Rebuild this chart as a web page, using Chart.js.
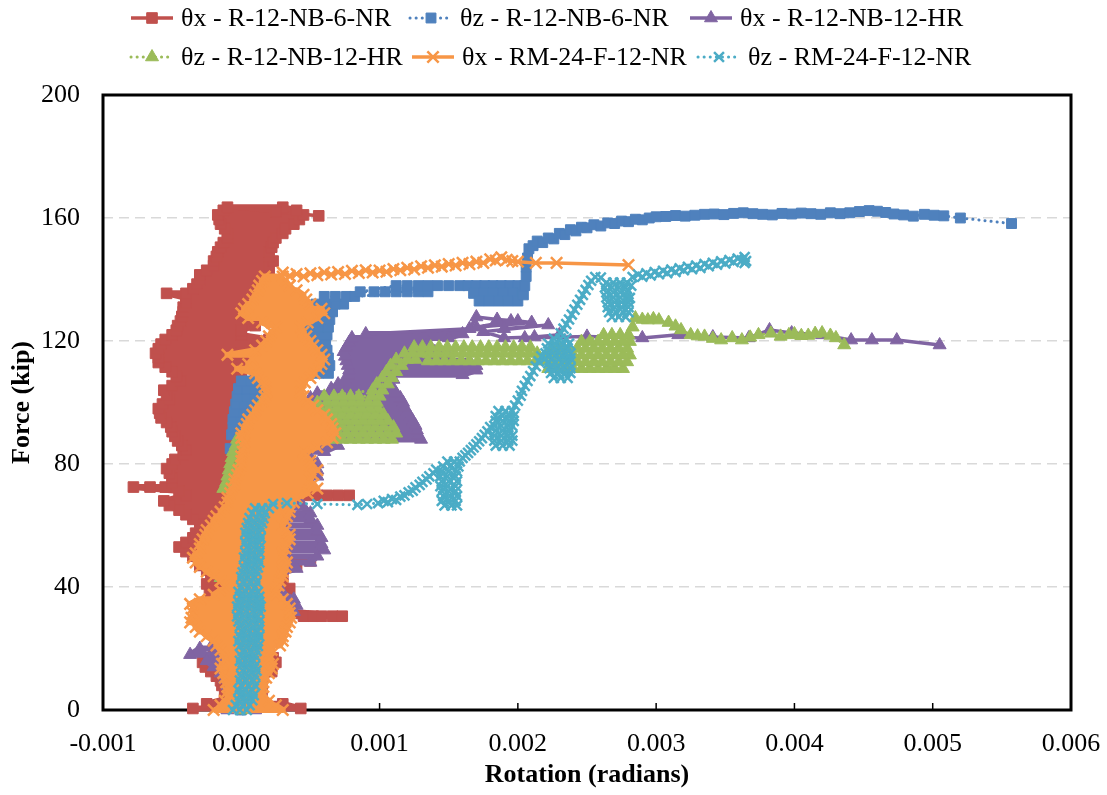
<!DOCTYPE html>
<html>
<head>
<meta charset="utf-8">
<title>Force vs Rotation</title>
<script src="https://cdn.jsdelivr.net/npm/chart.js@4.4.1/dist/chart.umd.min.js"></script>
<style>
  html, body { margin: 0; padding: 0; background: #fff; }
  #wrap { width: 1107px; height: 795px; }
</style>
</head>
<body>
<div id="wrap"><canvas id="forceRotation" width="1107" height="795"></canvas></div>
<script>
// Two kinds of arrays below:
//   ...Rows  : [force (kip), rotation (rad), rotation, ...] - readings at one load level,
//              swept back and forth to follow the load cycles
//   ...Path  : [rotation (rad), force (kip)] pairs in recorded order

const seriesLabels = [
    'θx - R-12-NB-6-NR', 'θz - R-12-NB-6-NR', 'θx - R-12-NB-12-HR',
    'θz - R-12-NB-12-HR', 'θx - RM-24-F-12-NR', 'θz - RM-24-F-12-NR'
];

// ---- θx R-12-NB-6-NR
const thxR6Rows = [
    [0.5,-0.00035,0.00043],[2,-0.00025,0.0003],[3.5,-0.00012,0.00012],[5,-0.0001,0.00015],[6.5,-0.00012,0.00013],
    [8,-0.00014,0.00015],[9.5,-0.00015,0.00012],[11,-0.00018,0.00016],[12.5,-0.00022,0.00022],[14,-0.00026,0.00022],
    [15.5,-0.00028,0.00025],[17,-0.00024,0.00023],[18.5,-0.0002,0.0002],[20,-0.00017,0.00019],[21.5,-0.00015,0.00018],
    [23,-0.00018,0.0002],[24.5,-0.0002,0.00025],[26,-0.00024,0.00027],[27.5,-0.00026,0.0003],[29,-0.0003,0.0003],
    [30.5,-0.0003,0.00045,0.00052,0.00058,0.00066,0.00073],[32,-0.0002,0.00035],[33.5,-0.00022,0.00035],
    [35,-0.00025,0.0003],[36.5,-0.00022,0.0003],[38,-0.0002,0.00033],[39.5,-0.00023,0.00035],[41,-0.00025,0.0003],
    [42.5,-0.00022,0.00028],[44,-0.0002,0.0003],[45.5,-0.00025,0.0003],[47,-0.0003,0.0004],[48.5,-0.0003,0.0005],
    [50,-0.00035,0.0003],[51.5,-0.0004,0.00025],[53,-0.00045,0.0002],[54.5,-0.0004,0.0002],[56,-0.00035,0.00015],
    [57.5,-0.00033,0.00015],[59,-0.0003,0.0001],[60.5,-0.0003,0.0001],[62,-0.00035,0.00008],[63.5,-0.0004,0.00005],
    [65,-0.00045,0.0001],[66.5,-0.00052,0.00015],[68,-0.00056,0.0003],[69.8,-0.0004,0.00048,0.00055,0.00062,0.0007,0.00078],
    [71.2,-0.00045,0.0001],[72.5,-0.00078,-0.00066,-0.00055,0.0001],[74,-0.0005,0.0001],[75.5,-0.0005,0.00005],
    [77,-0.00052,0.00005],[78.5,-0.00054,0],[80,-0.0005,0],[81.5,-0.00048,0.00005],[83,-0.00042,0.00005],
    [84.5,-0.0004,0.0001],[86,-0.00043,0.0001],[87.5,-0.00046,0],[89,-0.00048,0],[90.5,-0.0005,0.00005],
    [92,-0.00051,0.00005],[93.5,-0.00054,0],[95,-0.00058,0],[96.5,-0.00059,0.00005],[98,-0.0006,0.00005],
    [99.5,-0.00057,0],[101,-0.00052,0],[102.5,-0.00054,0.00005],[104,-0.00056,0.00005],[105.5,-0.0005,0.0001],
    [107,-0.00044,0.0001],[108.5,-0.00047,0],[110,-0.0005,0],[111.5,-0.00055,0.00005],[113,-0.0006,0.00005],
    [114.5,-0.0006,0],[116,-0.00062,0],[117.5,-0.0006,0.0001],[119,-0.00058,0.00012],[120.5,-0.00055,0.0002],
    [122,-0.0005,0],[123.5,-0.00047,0],[125,-0.00046,0.0001],[126.5,-0.00044,0.0001],[128,-0.00043,0.00015],
    [129.5,-0.00042,0.00015],[131,-0.00042,0.00015],[132.5,-0.0004,0.00015],[134,-0.0004,0.0002],
    [135.5,-0.00054,-0.0004,0.0002],[137,-0.00035,0.00012],[138.5,-0.00032,0.00015],[140,-0.0003,0.0002],
    [141.5,-0.0003,0.0002],[143,-0.00025,0.0002],[144.5,-0.0002,0.0002],[146,-0.0002,0.00023],[147.5,-0.00018,0.0002],
    [149,-0.00017,0.0002],[150.5,-0.00015,0.00022],[152,-0.00013,0.00023],[153.5,-0.0001,0.00025],[155,-0.0001,0.0003],
    [156.5,-0.00012,0.00032],[158,-0.00015,0.00038],[159.5,-0.00016,0.00042],[161,-0.00017,0.00045],
    [162.5,-0.00013,0.0004],[163.5,-0.0001,0.0003]
];
const thxR6Path = [[0.00025,162],[0.00056,160.7]];

// ---- θz R-12-NB-6-NR
const thzR6Low = [
    [0,0],[0.00008,2],[-0.00002,5],[0.0001,9],[0,13],[0.00012,17],[-0.00002,21],[0.0001,25],[0,29],[0.00012,33],
    [-0.00003,37],[0.0001,41],[0,45],[0.00012,49],[-0.00004,53],[0.0001,57],[-0.00002,61],[0.00012,65],[-0.00005,69],
    [0.0001,73],[-0.00006,77],[0.00012,81],[-0.00008,85],[0.00014,88]
];
const thzR6Rows = [
    [89.5,-0.00007,-0.00001,0.00005,0.00011,0.00016],[92,-0.00006,0,0.00006,0.00012,0.00017],
    [94.5,-0.00006,0,0.00006,0.00012,0.00017],[97,-0.00005,0.00001,0.00007,0.00013,0.00018],
    [99.5,-0.00004,0.00002,0.00008,0.00014,0.00018],[102,-0.00003,0.00003,0.00009,0.00015],
    [104.5,-0.00002,0.00004,0.0001,0.00016],[107,0,0.00006,0.00012,0.00017],
    [109.5,0.00049,0.00056,0.00063],[112,0.0005,0.00057,0.00064],[114.5,0.00049,0.00056,0.00063],
    [117,0.00048,0.00055,0.00062],[119.5,0.00047,0.00054,0.00061],[122,0.00048,0.00055,0.00062],
    [124.5,0.00049,0.00056,0.00063],[127,0.0005,0.00057,0.00064],[129.5,0.00052,0.00059,0.00066],
    [132,0.00054,0.00061,0.00068,0.00074],[134.5,0.0006,0.00068,0.00076,0.00082],
    [136,0.00086,0.00096,0.00104,0.00112,0.0012,0.00128,0.00135],
    [138,0.00112,0.0012,0.00128,0.00135,0.00142,0.0015,0.00158,0.00164,0.0017,0.00176,0.00182,0.00188,0.00194,0.002],
    [135.5,0.00168,0.00175,0.00182,0.00189,0.00196,0.00202],[133,0.00172,0.00179,0.00186,0.00193,0.002]
];
const thzR6Path = [
    [0.00204,135],[0.00205,138],[0.00206,141],[0.00206,144],[0.00207,147],[0.00208,150],
    [0.00211,151],[0.00214,152.5],[0.00218,152],[0.00222,153.5],[0.00226,153.2],[0.0023,155],[0.00234,154.6],
    [0.00238,156.2],[0.00242,155.8],[0.00246,157],[0.0025,156.8],[0.00255,157.8],[0.0026,157.4],[0.00265,158.4],
    [0.0027,158.2],[0.00275,159],[0.0028,158.8],[0.00285,159.6],[0.0029,159.4],[0.00295,160],[0.003,160.4],
    [0.00307,160.5],[0.00314,160.8],[0.00321,160.6],[0.00328,160.9],[0.00335,161.2],[0.00342,161.3],[0.00349,161.1],
    [0.00356,161.5],[0.00363,161.7],[0.0037,161.4],[0.00377,161.2],[0.00384,161],[0.00391,161.5],[0.00398,161.3],
    [0.00405,161.6],[0.00412,161.4],[0.00419,161.2],[0.00426,161.7],[0.00433,161.4],[0.0044,161.7],[0.00447,162.1],
    [0.00454,162.4],[0.0046,162.2],[0.00466,161.8],[0.00472,161.3],[0.00479,161],[0.00486,160.6],[0.00494,161.2],
    [0.00501,160.9],[0.00508,160.7],[0.0052,160],[0.00557,158.2]
];

// ---- θx R-12-NB-12-HR
const thxR12Rows = [
    [0,-0.0001,0.0001],[2,-0.0001,0.00015],[4,-0.00008,0.00016],[6,-0.00005,0.00012],[8,-0.0001,0.0001],
    [10,-0.00012,0.0001],[12,-0.00015,0.0001],[14,-0.0002,0.00012],[16,-0.00025,0.0001],[18,-0.00037,0.0001],
    [20,-0.0003,0.00012],[22,-0.0002,0.00015],[24,-0.00018,0.0002],[26,-0.0002,0.00022],[28,-0.00012,0.00025],
    [30,-0.0001,0.0003],[32,-0.00008,0.00038],[34,-0.0001,0.0004],[36,-0.0001,0.00038],[38,-0.00008,0.0003],
    [40,-0.0001,0.00022],[42,-0.0001,0.0002],[44,-0.0001,0.00025],[46,-0.00005,0.0004],[48,0,0.0005],
    [50,0,0.00055],[52,0.0001,0.0006],[54,0.0001,0.00058],[56,0.0001,0.00058],[58,0.0001,0.00055],
    [60,0.0001,0.00055],[62,0.0001,0.0005],[64,0.0001,0.0005],[66,0.0001,0.00045],[68,0.0001,0.00042],
    [70,0.0001,0.0004],[72,0.0001,0.00045],[74,0.00012,0.0005],[76,0.00015,0.00055],[78,0.00018,0.00055],
    [80,0.0002,0.00055],[82,0.0002,0.0005],[84,0.00025,0.0006],[86,0.0003,0.0007],
    [88,0.0004,0.0013],[89.5,0.0005,0.00128],[91,0.00055,0.00127],[92.5,0.0005,0.00126],[94,0.00048,0.00124],
    [95.5,0.00045,0.00122],[97,0.00045,0.0012],[98.5,0.00046,0.00118],[100,0.00048,0.00117],[101.5,0.0005,0.00115],
    [103,0.00055,0.00112],[104.5,0.00065,0.0011],[106,0.0007,0.00105],[107.5,0.00075,0.0011],[109,0.00078,0.0016],
    [110.5,0.00078,0.0017],[112,0.00077,0.0017],[113.5,0.00076,0.00165],[115,0.00075,0.0015],[116.5,0.00074,0.0014],
    [118,0.00076,0.0013],[119.5,0.00078,0.00135],[121,0.0008,0.0015],[122.3,0.0009,0.0016]
];
const thxR12Path = [
    [0.00165,124],[0.0017,127.8],[0.00185,127],[0.002,126.5],[0.0021,126],[0.0017,124.5],[0.00195,126.5],
    [0.0019,124],[0.00222,125.2],[0.00175,123],[0.0019,121],[0.00212,121.3],[0.0023,122],[0.00205,121],
    [0.0025,121.5],[0.0029,121],[0.00316,122],[0.00341,121.3],[0.00367,121],[0.00382,123.6],[0.00398,122.6],
    [0.0042,122],[0.00441,120.3],[0.00456,120.3],[0.00474,120.3],[0.00505,118.7]
];

// ---- θz R-12-NB-12-HR
const thzR12Low = [
    [0,0],[0.00008,3],[-0.00003,7],[0.0001,11],[-0.00002,15],[0.00008,19],[-0.00005,23],[0.0001,27],[-0.00003,31],
    [0.0001,35],[-0.00012,39],[0.00008,41],[-0.00015,43],[0.0001,47],[-0.00005,51],[0.0001,55],[-0.00004,59],
    [0.0001,63],[-0.00008,67],[0.0001,70]
];
const thzR12Rows = [
    [72,-0.00013,-0.00007,0.0001],[74,-0.00011,-0.00005,0.00012],[76,-0.0001,-0.00004,0.00015],
    [78,-0.00009,-0.00003,0.0002],[80,-0.00008,-0.00002,0.00025],[82,-0.00007,0,0.0003],[84,-0.00006,0.00001,0.00035],
    [86,-0.00004,0.00002,0.0004],
    [88,-0.00003,0.00005,0.0004,0.00048,0.00055,0.00061,0.00067,0.00073,0.00079,0.00085,0.00091,0.00097,0.00103,0.00109],
    [90,0.00004,0.00045,0.00052,0.00058,0.00064,0.0007,0.00076,0.00082,0.00088,0.00094,0.001,0.00106,0.00112],
    [92,0.00006,0.00042,0.00049,0.00055,0.00061,0.00067,0.00073,0.00079,0.00085,0.00091,0.00097,0.00103,0.0011],
    [94,0.00008,0.00045,0.00052,0.00058,0.00064,0.0007,0.00076,0.00082,0.00088,0.00094,0.001,0.00106],
    [96,0.0001,0.00048,0.00055,0.00061,0.00067,0.00073,0.00079,0.00085,0.00091,0.00097,0.00103],
    [98,0.00012,0.0005,0.00057,0.00063,0.00069,0.00075,0.00081,0.00087,0.00093,0.00099],
    [100,0.00015,0.00055,0.00062,0.00068,0.00074,0.0008,0.00086,0.00092,0.00098],
    [102,0.0006,0.00067,0.00073,0.00079,0.00085,0.00094,0.001],
    [104,0.00095,0.00102],[106,0.00098,0.00106],[108,0.00102,0.00109],[110,0.00105,0.00112],[112,0.00108,0.00116],
    [114,0.00112,0.0012,0.00126],
    [116,0.00118,0.00124,0.0013,0.00136,0.00142,0.00148,0.00154,0.0016,0.00166,0.00172,0.00178,0.00184,0.0019,0.00196,0.00202,0.00208,0.00214],
    [118,0.00125,0.00131,0.00137,0.00143,0.00149,0.00155,0.00161,0.00167,0.00173,0.00179,0.00185,0.00191,0.00197,0.00203,0.00209],
    [113.5,0.00135,0.00141,0.00147,0.00153,0.00159,0.00165,0.00171,0.00177,0.00183,0.00189,0.00195,0.00201,0.00207,0.00213,0.00219,0.00225],
    [111,0.00222,0.00228,0.00234,0.0024,0.00246,0.00252,0.00258,0.00264,0.0027,0.00276],
    [113.2,0.00225,0.00231,0.00237,0.00243,0.00249,0.00255,0.00261,0.00267,0.00273,0.00279],
    [115.4,0.00222,0.00228,0.00234,0.0024,0.00246,0.00252,0.00258,0.00264,0.0027,0.00276,0.00281],
    [117.6,0.00225,0.00231,0.00237,0.00243,0.00249,0.00255,0.00261,0.00267,0.00273,0.00279],
    [119.8,0.00246,0.00252,0.00258,0.00264,0.0027,0.00276,0.00281],
    [122,0.00262,0.00268,0.00274,0.0028]
];
const thzR12Path = [
    [0.00283,124.5],[0.00285,127.5],[0.0029,127],[0.00294,126.8],[0.00298,127.2],[0.00302,126.8],[0.00309,126],
    [0.00314,124.8],[0.00318,123.6],[0.00325,122],[0.0033,121.6],[0.00335,121.5],[0.00341,120.8],[0.00347,120.3],
    [0.00355,121],[0.00362,120.3],[0.00368,121.2],[0.00374,122],[0.00383,122.5],[0.0039,121.5],[0.00396,122],
    [0.004,122.3],[0.00405,121.7],[0.0041,121.8],[0.00415,122.4],[0.0042,122.6],[0.00426,121.8],[0.0043,121],
    [0.00436,118.7]
];

// ---- θx RM-24-F-12-NR
const thxRM24Rows = [
    [0,-0.0002,0.0003],[1.5,-0.00015,0.00025],[3,-0.00012,0.0002],[4.5,-0.0001,0.00015],[6,-0.0001,0.00015],
    [7.5,-0.0001,0.00016],[9,-0.00011,0.00016],[10.5,-0.00012,0.00018],[12,-0.00013,0.0002],[13.5,-0.00015,0.00022],
    [15,-0.00014,0.00023],[16.5,-0.00012,0.0002],[18,-0.00013,0.0002],[19.5,-0.00015,0.00022],[21,-0.00018,0.00028],
    [22.5,-0.0002,0.0003],[24,-0.00025,0.0003],[25.5,-0.0003,0.00032],[27,-0.00033,0.00033],[28.5,-0.00037,0.00035],
    [30,-0.00036,0.00036],[31.5,-0.00035,0.00035],[33,-0.00035,0.00035],[34.5,-0.00037,0.00033],[36,-0.0003,0.0003],
    [37.5,-0.0002,0.00025],[39,-0.00015,0.00025],[40.5,-0.00012,0.00027],[42,-0.00015,0.00028],[43.5,-0.0002,0.0003],
    [45,-0.00025,0.0003],[46.5,-0.0003,0.00032],[48,-0.00033,0.00033],[49.5,-0.00035,0.0003],[51,-0.00033,0.0003],
    [52.5,-0.0003,0.00032],[54,-0.0003,0.00033],[55.5,-0.00028,0.00035],[57,-0.00026,0.00035],[58.5,-0.00025,0.00032],
    [60,-0.00022,0.0003],[61.5,-0.0002,0.00032],[63,-0.00018,0.00033],[64.5,-0.00015,0.00035],[66,-0.00012,0.00035],
    [67.5,-0.0001,0.00038],[69,-0.0001,0.0004],[70.5,-0.00008,0.00048],[72,-0.00007,0.00055],[73.5,-0.00005,0.00052],
    [75,-0.00005,0.0005],[76.5,-0.00003,0.00052],[78,-0.00002,0.00055],[79.5,0,0.0005],[81,0,0.0005],
    [82.5,0,0.00047],[84,0.00001,0.00045],[85.5,0.00002,0.00055],[87,0.00002,0.00062],[88.5,0,0.00066],
    [90,0,0.00068],[91.5,0.00002,0.00066],[93,0.00004,0.00065],[94.5,0.00005,0.00062],[96,0.00008,0.0006],
    [97.5,0.0001,0.00055],[99,0.00012,0.00052],[100.5,0.00015,0.00048],[102,0.00017,0.00045],[103.5,0.00018,0.00043],
    [105,0.00017,0.00043],[106.5,0.00015,0.00046],[108,0.00012,0.0005],[109.5,0.0001,0.00053],[111,-0.00003,0.00056],
    [112.5,0.00005,0.00058],[114,0.00008,0.0006],[115.5,-0.0001,0.00058],[117,0.0001,0.00055],[118.5,0.00015,0.00052],
    [120,0.00018,0.0005],[121.5,0.0002,0.00047],[123,0.00022,0.00045],[124.5,0.00025,0.00043],[126,0.00015,0.00048],
    [127.5,0.00005,0.00055],[129,0,0.0006],[130.5,0.00002,0.00058],[132,0.00005,0.0005],[133.5,0.00008,0.00047],
    [135,0.0001,0.00045],[136.5,0.00012,0.0004],[138,0.00013,0.00035],[139.5,0.00015,0.00032],[141,0.00017,0.0003]
];
const thxRM24Path = [
    [0.0003,142.3],[0.00035,141.2],[0.0004,141.8],[0.00045,141],[0.0005,142],[0.00055,141.4],[0.0006,142.3],
    [0.00065,141.6],[0.0007,142.4],[0.00075,141.8],[0.0008,142.8],[0.00085,142.1],[0.0009,143],[0.00095,142.3],
    [0.001,142.9],[0.00105,142.5],[0.0011,143.4],[0.00115,143],[0.0012,143.8],[0.00125,143.3],[0.0013,144.3],
    [0.00135,143.8],[0.0014,144.6],[0.00145,144.2],[0.0015,145],[0.00155,144.6],[0.0016,145.4],[0.00165,145],
    [0.0017,145.8],[0.00175,145.4],[0.0018,146.6],[0.00184,146.2],[0.00188,147.2],[0.00192,146.4],[0.00196,146],
    [0.002,145.8],[0.00213,145.4],[0.00228,145.4],[0.0028,144.7]
];

// ---- θz RM-24-F-12-NR
const thzRM24Column = [
    [0,-0.00006,-0.00001,0.00004],[1.6,-0.00004,0.00001,0.00006],[3.2,-0.00002,0.00003,0.00008],
    [4.8,-0.00001,0.00004,0.00009],[6.4,-0.00002,0.00003,0.00008],[8,0,0.00005,0.0001],[9.6,-0.00001,0.00004,0.00009],
    [11.2,0,0.00005,0.0001],[12.8,0.00001,0.00006,0.00011],[14.4,0,0.00005,0.0001],[16,-0.00001,0.00004,0.00009],
    [17.6,0,0.00005,0.0001],[19.2,0.00001,0.00006,0.00011],[20.8,-0.00001,0.00004,0.00009,0.00012],
    [22.4,-0.00002,0.00003,0.00008,0.00012],[24,-0.00001,0.00004,0.00009,0.00013],[25.6,0,0.00005,0.0001,0.00012],
    [27.2,-0.00001,0.00004,0.00009,0.00013],[28.8,-0.00002,0.00003,0.00008,0.00013],[30.4,-0.00003,0.00002,0.00007,0.00012],
    [32,-0.00002,0.00003,0.00008,0.00013],[33.6,-0.00003,0.00002,0.00007,0.00012,0.00014],
    [35.2,-0.00002,0.00003,0.00008,0.00013],[36.8,-0.00001,0.00004,0.00009,0.00013],[38.4,-0.00002,0.00003,0.00008,0.00012],
    [40,0,0.00005,0.0001],[41.6,0.00001,0.00006,0.00011],[43.2,0,0.00005,0.0001],[44.8,0.00001,0.00006,0.00011],
    [46.4,0.00002,0.00007,0.00012],[48,0.00003,0.00008,0.00013],[49.6,0.00002,0.00007,0.00012],
    [51.2,0.00003,0.00008,0.00013],[52.8,0.00004,0.00009,0.00013],[54.4,0.00003,0.00008,0.00013],
    [56,0.00004,0.00009,0.00014],[57.6,0.00003,0.00008,0.00013],[59.2,0.00004,0.00009,0.00014],
    [60.8,0.00005,0.0001,0.00015],[62.4,0.00006,0.00011,0.00016],[64,0.00008,0.00013,0.00017],[65.6,0.0001,0.00015,0.0002]
];
const thzRM24Rise1 = [
    [0.00023,67],[0.00033,67.3],[0.00055,67],[0.00084,66.7],[0.00091,67],[0.00099,67.3],[0.00103,68],[0.00106,67.6],
    [0.00109,68.6],[0.00112,68.3],[0.00115,69.4],[0.00118,69.8],[0.00121,70.8],[0.00124,71.3],[0.00126,72.4],
    [0.00129,73.2],[0.00131,74.2],[0.00134,75],[0.00136,76],[0.00139,77],[0.00141,78.2]
];
const thzRM24Knot1 = [
    [66.5,0.00147,0.00152,0.00156],[68,0.00145,0.0015,0.00155],[69.6,0.00146,0.00151,0.00156],
    [71.2,0.00145,0.0015,0.00155],[72.8,0.00144,0.00149,0.00155],[74.4,0.00145,0.0015,0.00156],
    [76,0.00144,0.00149,0.00155],[77.6,0.00145,0.0015,0.00156],[79.2,0.00146,0.00151,0.00157],[80.8,0.00149,0.00154,0.00158]
];
const thzRM24Rise2 = [
    [0.0016,82],[0.00162,82.8],[0.00164,83.6],[0.00166,84.5],[0.00168,85.4],[0.0017,86.4],[0.00172,87.4],
    [0.00174,88.4],[0.00176,89.5],[0.00178,90.6],[0.0018,92]
];
const thzRM24Knot2 = [
    [86,0.00184,0.00189,0.00194],[87.6,0.00183,0.00188,0.00193,0.00196],[89.2,0.00183,0.00188,0.00193,0.00196],
    [90.8,0.00184,0.00189,0.00194],[92.4,0.00183,0.00188,0.00193,0.00196],[94,0.00184,0.00189,0.00194,0.00197],
    [95.6,0.00184,0.00189,0.00194,0.00197],[97.2,0.00186,0.00191,0.00196]
];
const thzRM24Rise3 = [
    [0.00198,99],[0.002,100.6],[0.00202,102.2],[0.00203,103.8],[0.00205,105.4],[0.00207,107],[0.00209,108.6],
    [0.00211,110.2],[0.00213,111.8],[0.00215,113.4],[0.00217,115]
];
const thzRM24Knot3 = [
    [108,0.00226,0.00231,0.00236],[109.6,0.00224,0.00229,0.00234,0.00238],[111.2,0.00223,0.00228,0.00233,0.00238],
    [112.8,0.00222,0.00227,0.00232,0.00237],[114.4,0.0022,0.00225,0.0023,0.00235,0.00238],
    [116,0.0022,0.00225,0.0023,0.00235,0.00238],[117.6,0.00221,0.00226,0.00231,0.00236],
    [119.2,0.00222,0.00227,0.00232,0.00237],[120.8,0.00226,0.00231,0.00235]
];
const thzRM24Rise4 = [
    [0.00231,122.5],[0.00233,124],[0.00235,125.5],[0.00237,127],[0.00239,128.6],[0.00241,130.2],[0.00243,131.8],
    [0.00245,133.4],[0.00247,135],[0.00249,136.6],[0.00251,138.2],[0.00253,139.6],[0.00256,140.8],[0.0026,140.6]
];
const thzRM24Knot4 = [
    [139,0.00264,0.00269,0.00274,0.00279],[137.4,0.00263,0.00268,0.00273,0.00278],[135.8,0.00264,0.00269,0.00274,0.00279],
    [134.2,0.00264,0.00269,0.00274,0.00279],[132.6,0.00265,0.0027,0.00275,0.0028],[131,0.00265,0.0027,0.00275,0.0028],
    [129.4,0.00266,0.00271,0.00276,0.0028],[127.8,0.00268,0.00273,0.00278]
];
const thzRM24Tail = [
    [0.00281,134],[0.00282,138],[0.00283,140.8],[0.00287,141.6],[0.0029,140.9],[0.00293,142],[0.00296,141.3],
    [0.00299,142.4],[0.00302,141.7],[0.00305,142.8],[0.00308,142.1],[0.00311,143.2],[0.00314,142.5],[0.00317,143.6],
    [0.0032,143],[0.00323,144.1],[0.00326,143.4],[0.00329,144.5],[0.00332,143.8],[0.00335,145],[0.00338,144.3],
    [0.00341,145.4],[0.00344,144.8],[0.00347,145.9],[0.0035,145.2],[0.00353,146.3],[0.00356,145.7],[0.00359,146.8],
    [0.00362,146.2],[0.00364,147.3],[0.00365,146],[0.00364,145.4]
];

const seriesColors = ['#C0504D', '#4F81BD', '#8064A2', '#9BBB59', '#F79646', '#4BACC6'];

// axis ranges and tick steps
const rotationMin = -0.001, rotationMax = 0.006, rotationStep = 0.001;
const forceMin = 0, forceMax = 200, forceStep = 40;

// rows are walked left-to-right, then right-to-left, and so on
function sweep(rows) {
    const pts = [];
    rows.forEach((r, k) => {
        const xs = r.slice(1);
        if (k % 2) xs.reverse();
        xs.forEach(x => pts.push({ x, y: r[0], cycle: true }));
    });
    return pts;
}
function trace(path) {
    return path.map(p => ({ x: p[0], y: p[1] }));
}

const seriesPoints = [
    [...sweep(thxR6Rows), ...trace(thxR6Path)],
    [...trace(thzR6Low), ...sweep(thzR6Rows), ...trace(thzR6Path)],
    [...sweep(thxR12Rows), ...trace(thxR12Path)],
    [...trace(thzR12Low), ...sweep(thzR12Rows), ...trace(thzR12Path)],
    [...sweep(thxRM24Rows), ...trace(thxRM24Path)],
    [...sweep(thzRM24Column), ...trace(thzRM24Rise1), ...sweep(thzRM24Knot1), ...trace(thzRM24Rise2),
     ...sweep(thzRM24Knot2), ...trace(thzRM24Rise3), ...sweep(thzRM24Knot3), ...trace(thzRM24Rise4),
     ...sweep(thzRM24Knot4), ...trace(thzRM24Tail)]
];

const serif = '"Liberation Serif", "Times New Roman", serif';
Chart.defaults.font.family = serif;
Chart.defaults.color = '#000';

// marker / line style per series (solid line for θx, dotted for θz)
const markerStyles = [
    { pointStyle: 'rect', radius: 7.5, dotted: false },
    { pointStyle: 'rect', radius: 7, dotted: true },
    { pointStyle: 'triangle', radius: 7.5, dotted: false },
    { pointStyle: 'triangle', radius: 7.5, dotted: true },
    { pointStyle: 'crossRot', radius: 8, dotted: false },
    { pointStyle: 'crossRot', radius: 7, dotted: true }
];

const datasets = seriesPoints.map((pts, i) => {
    const m = markerStyles[i];
    const c = seriesColors[i];
    const isCross = m.pointStyle === 'crossRot';
    const lineW = m.dotted ? 3 : 3.5;
    return {
        label: seriesLabels[i],
        data: pts,
        showLine: true,
        tension: 0,
        borderColor: c,
        backgroundColor: c,
        borderWidth: lineW,
        borderDash: m.dotted ? [0.1, 6] : [],
        borderCapStyle: m.dotted ? 'round' : 'butt',
        borderJoinStyle: 'round',
        // the back-and-forth load cycles pack tightly, so draw those strokes heavier
        segment: {
            borderWidth: ctx => (!m.dotted && pts[ctx.p0DataIndex].cycle && pts[ctx.p1DataIndex].cycle) ? 6 : lineW
        },
        pointStyle: m.pointStyle,
        pointRadius: m.radius,
        pointBackgroundColor: c,
        pointBorderColor: c,
        pointBorderWidth: isCross ? 2.5 : 1,
        order: 6 - i,
        clip: false
    };
});

// legend slots: [left of line sample, row centre]
const legendSlots = [[131, 18], [410, 18], [690, 18], [131, 57], [412, 57], [698, 57]];

const excelLegend = {
    id: 'excelLegend',
    afterDraw(chart) {
        const ctx = chart.ctx;
        chart.data.datasets.forEach((ds, i) => {
            const [x, y] = legendSlots[i];
            ctx.save();
            ctx.strokeStyle = ds.borderColor;
            ctx.lineWidth = ds.borderWidth;
            ctx.lineCap = ds.borderCapStyle;
            ctx.setLineDash(ds.borderDash);
            ctx.beginPath();
            ctx.moveTo(x, y);
            ctx.lineTo(x + 42, y);
            ctx.stroke();
            ctx.setLineDash([]);
            ctx.lineCap = 'butt';
            ctx.fillStyle = ds.pointBackgroundColor;
            ctx.strokeStyle = ds.pointBorderColor;
            ctx.lineWidth = ds.pointBorderWidth;
            Chart.helpers.drawPoint(ctx, {
                pointStyle: ds.pointStyle, radius: ds.pointRadius, rotation: 0, borderWidth: ds.pointBorderWidth
            }, x + 21, y);
            ctx.fillStyle = '#000';
            ctx.font = '26px ' + serif;
            ctx.textAlign = 'left';
            ctx.textBaseline = 'middle';
            ctx.fillText(ds.label, x + 50, y + 1);
            ctx.restore();
        });
    }
};

// black frame around the plot area plus small inward ticks on the rotation axis
const plotFrame = {
    id: 'plotFrame',
    beforeDatasetsDraw(chart) {
        const { ctx, chartArea: a, scales: { x } } = chart;
        ctx.save();
        ctx.strokeStyle = '#000';
        ctx.lineWidth = 1.5;
        x.ticks.forEach(t => {
            const px = x.getPixelForValue(t.value);
            ctx.beginPath();
            ctx.moveTo(px, a.bottom);
            ctx.lineTo(px, a.bottom - 7);
            ctx.stroke();
        });
        ctx.lineWidth = 3;
        ctx.strokeRect(a.left, a.top, a.right - a.left, a.bottom - a.top);
        ctx.restore();
    }
};

new Chart(document.getElementById('forceRotation'), {
    type: 'scatter',
    data: { datasets },
    plugins: [plotFrame, excelLegend],
    options: {
        responsive: false,
        animation: false,
        events: [],
        devicePixelRatio: 1,
        layout: { padding: { top: 95, right: 36, left: 0, bottom: 0 } },
        plugins: { legend: { display: false }, tooltip: { enabled: false } },
        scales: {
            x: {
                type: 'linear',
                min: rotationMin,
                max: rotationMax,
                afterFit(scale) { scale.height = 85; },
                ticks: {
                    stepSize: rotationStep,
                    padding: 6,
                    font: { size: 26 },
                    color: '#000',
                    callback: v => (Math.abs(v) < 1e-12 ? '0.000' : v.toFixed(3))
                },
                grid: { display: true, drawOnChartArea: false, drawTicks: true, tickLength: 13, tickColor: 'rgba(0,0,0,0)' },
                border: { display: false },
                title: {
                    display: true,
                    text: 'Rotation (radians)',
                    font: { size: 26, weight: 'bold', lineHeight: 1.2 },
                    color: '#000',
                    padding: { top: 0, bottom: 4 }
                }
            },
            y: {
                type: 'linear',
                min: forceMin,
                max: forceMax,
                afterFit(scale) { scale.width = 103; },
                ticks: { stepSize: forceStep, padding: 23, font: { size: 26 }, color: '#000' },
                grid: {
                    drawTicks: false,
                    lineWidth: 1.5,
                    color: ctx => (ctx.tick && (ctx.tick.value === forceMin || ctx.tick.value === forceMax)) ? 'rgba(0,0,0,0)' : '#D9D9D9'
                },
                border: { display: false, dash: [10, 6] },
                title: {
                    display: true,
                    text: 'Force (kip)',
                    font: { size: 26, weight: 'bold', lineHeight: 1.2 },
                    color: '#000',
                    padding: { top: 7, bottom: 0 }
                }
            }
        }
    }
});
</script>
</body>
</html>
